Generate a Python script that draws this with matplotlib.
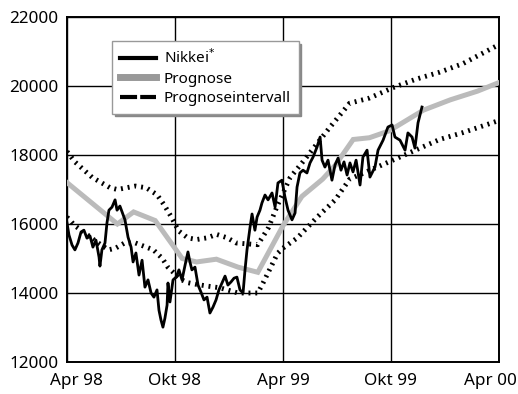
import matplotlib
matplotlib.use("Agg")
import matplotlib.pyplot as plt
import matplotlib.transforms as mtransforms
from matplotlib.lines import Line2D

plt.rcParams['font.family'] = ['Noto Sans', 'DejaVu Sans']

# months since Apr 98
nikkei_m = [0.00, 0.11, 0.28, 0.44, 0.61, 0.78, 0.94, 1.11, 1.28, 1.44, 1.61, 1.78, 1.83, 1.94,
            2.11, 2.22, 2.33, 2.50, 2.67, 2.78, 2.94, 3.06, 3.22, 3.39, 3.56, 3.67, 3.83, 4.00,
            4.17, 4.33, 4.50, 4.67, 4.83, 5.00, 5.11, 5.22, 5.33, 5.44, 5.56, 5.61, 5.72, 5.89,
            6.06, 6.22, 6.39, 6.56, 6.72, 6.83, 6.94, 7.11, 7.28, 7.44, 7.61, 7.78, 7.94, 8.11,
            8.28, 8.44, 8.61, 8.78, 8.94, 9.11, 9.28, 9.44, 9.61, 9.78, 9.89, 10.00, 10.17, 10.28,
            10.44, 10.56, 10.72, 10.83, 11.00, 11.17, 11.39, 11.56, 11.72, 11.94, 12.11, 12.28,
            12.50, 12.67, 12.78, 12.94, 13.11, 13.33, 13.50, 13.67, 13.89, 14.06, 14.17, 14.33,
            14.50, 14.72, 14.89, 15.06, 15.22, 15.39, 15.56, 15.72, 15.89, 16.06, 16.28, 16.44,
            16.67, 16.83, 17.11, 17.28, 17.56, 17.83, 18.06, 18.22, 18.50, 18.78, 18.94, 19.17,
            19.33, 19.50, 19.72]
nikkei = [16030, 15680, 15390, 15250, 15450, 15770, 15820, 15590, 15650, 15330, 15530, 15040, 14780, 15250,
          15450, 16030, 16400, 16490, 16700, 16400, 16520, 16350, 16120, 15620, 15330, 14900, 15160, 14520,
          14950, 14170, 14380, 14000, 13880, 14090, 13500, 13220, 13010, 13270, 13650, 14290, 13740, 14380,
          14460, 14670, 14380, 14810, 15190, 14900, 14670, 14750, 14230, 14030, 13800, 13880, 13420, 13590,
          13800, 14090, 14290, 14490, 14230, 14320, 14430, 14460, 14090, 14000, 14670, 15250, 15910, 16290,
          15820, 16200, 16400, 16610, 16840, 16700, 16900, 16490, 17190, 17270, 16780, 16400,
          16120, 16320, 17070, 17480, 17560, 17480, 17770, 17940, 18230, 18520, 17850, 17650,
          17850, 17270, 17710, 17910, 17560, 17800, 17420, 17770, 17510, 17850, 17130, 17940,
          18140, 17360, 17650, 18140, 18430, 18810, 18870, 18520, 18430, 18140, 18640, 18520,
          18200, 18930, 19390]

prog_m = [0, 2.8, 3.7, 4.9, 6.4, 7.2, 8.3, 9.5, 10.6, 12.0, 13.05, 14.2, 14.9, 15.9, 16.8,
          17.9, 19.8, 21.3, 22.8, 24]
prognose = [17200, 16000, 16350, 16100, 15000, 14900, 14980, 14750, 14600, 15950, 16800, 17300,
            17700, 18450, 18500, 18700, 19300, 19600, 19850, 20100]

upper_m = [0, 0.44, 1.4, 2.4, 2.8, 3.8, 4.4, 5.0, 5.4, 5.8, 6.2, 6.7, 7.2, 7.8, 8.3, 8.9, 9.4,
           10.6, 11.2, 11.7, 12.4, 13.1, 14.3, 14.6, 15.7, 16.8, 18.1, 19.4, 20.7, 22, 24]
upper = [18100, 17800, 17350, 17050, 17000, 17100, 17050, 16850, 16550, 16200, 15800, 15600,
         15550, 15600, 15700, 15600, 15450, 15400, 15900, 16550, 17350, 17800, 18600, 18800,
         19500, 19650, 19950, 20200, 20400, 20650, 21200]

lower_m = [0, 0.44, 1.1, 1.6, 2.3, 2.7, 3.2, 3.8, 4.8, 5.3, 5.6, 5.9, 6.3, 6.7, 7.2, 7.8, 8.5,
           9.5, 10.6, 10.9, 11.7, 12.0, 12.8, 13.9, 14.9, 15.7, 16.8, 18.1, 19.4, 20.7, 22, 24]
lower = [16200, 15950, 15700, 15500, 15250, 15300, 15450, 15450, 15250, 15000, 14750, 14600,
         14400, 14300, 14250, 14200, 14150, 14000, 14000, 14300, 15150, 15300, 15600, 16200,
         16700, 17300, 17550, 17850, 18150, 18450, 18650, 19000]

x_ticks = [0, 6, 12, 18, 24]
x_labels = ['Apr 98', 'Okt 98', 'Apr 99', 'Okt 99', 'Apr 00']
y_ticks = [12000, 14000, 16000, 18000, 20000, 22000]

fig = plt.figure(figsize=(5.18, 3.94), dpi=100)
ax = fig.add_axes([67 / 518, 32 / 394, 432 / 518, 345 / 394])

dots = (0, (0.4, 1.0))
ax.plot(upper_m, upper, color='black', lw=3.5, linestyle=dots, dash_capstyle='butt', zorder=3)
ax.plot(lower_m, lower, color='black', lw=3.5, linestyle=dots, dash_capstyle='butt', zorder=3)
ax.plot(prog_m, prognose, color='#bbbbbb', lw=3.6, solid_joinstyle='miter', zorder=4)
ax.plot(nikkei_m, nikkei, color='black', lw=2.0, zorder=5)

ax.set_xlim(0, 24)
ax.set_ylim(12000, 22000)
ax.set_xticks(x_ticks)
ax.set_xticklabels(x_labels)
ax.set_yticks(y_ticks)
ax.set_yticklabels([str(v) for v in y_ticks])
ax.tick_params(length=0, labelsize=12.3, pad=8)
ax.tick_params(axis='y', pad=6)
ax.grid(True, color='black', lw=1.0)
ax.set_axisbelow(True)
for side in ax.spines:
    ax.spines[side].set_linewidth(1.4)

# first and last date labels pulled inwards, like the original
xlabs = ax.get_xticklabels()
xlabs[0].set_transform(xlabs[0].get_transform() + mtransforms.ScaledTranslation(9 / 100, 0, fig.dpi_scale_trans))
xlabs[-1].set_transform(xlabs[-1].get_transform() + mtransforms.ScaledTranslation(-9 / 100, 0, fig.dpi_scale_trans))

handles = [Line2D([], [], color='black', lw=3),
           Line2D([], [], color='#999999', lw=5),
           Line2D([], [], color='black', lw=3, dashes=(4.1, 0.75))]
labels = [r'Nikkei$^{*}$', 'Prognose', 'Prognoseintervall']
leg = ax.legend(handles, labels, loc='upper left', bbox_to_anchor=(0.104, 0.93), fontsize=11,
                frameon=True, fancybox=False, shadow={'color': '#888888', 'alpha': 1}, handlelength=2.4,
                handletextpad=0.5, labelspacing=0.28, borderpad=0.5, borderaxespad=0)
leg.get_frame().set_edgecolor('#999999')
leg.get_frame().set_linewidth(1.0)

fig.savefig('out.png', dpi=100)
